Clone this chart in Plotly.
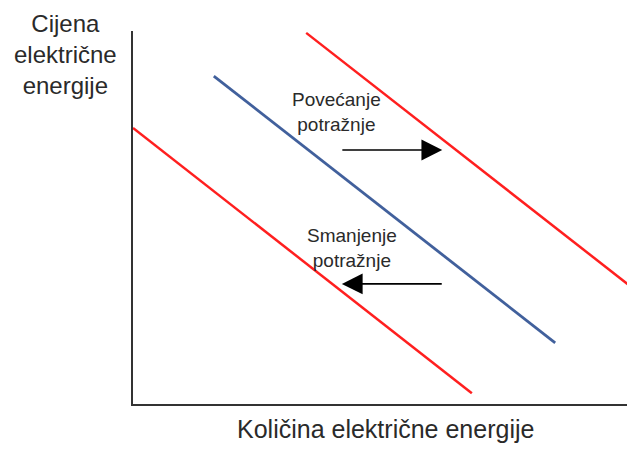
import plotly.graph_objects as go

# Conceptual supply/demand style lines (quantity on x, price on y), units 0-10
left_red_x = [0.0, 6.75]
left_red_y = [7.40, 0.29]
blue_x = [1.61, 8.41]
blue_y = [8.79, 1.64]
right_red_x = [3.45, 10.0]
right_red_y = [9.95, 3.06]

# Arrows: (tail_x, head_x, y)
arrow_up = (4.14, 6.16, 6.81)
arrow_down = (6.18, 4.16, 3.22)

label_up = "Povećanje<br>potražnje"
label_up_pos = (4.06, 7.84)
label_down = "Smanjenje<br>potražnje"
label_down_pos = (4.36, 4.18)

y_title = "Cijena<br>električne<br>energije"
x_title = "Količina električne energije"

RED = "#ff1f1f"
BLUE = "#41609c"
TXT = "#2a2a2a"
FONT = "Liberation Sans, Arial, sans-serif"

fig = go.Figure()
fig.add_trace(go.Scatter(x=left_red_x, y=left_red_y, mode="lines",
                         line=dict(color=RED, width=2.5), hoverinfo="skip"))
fig.add_trace(go.Scatter(x=blue_x, y=blue_y, mode="lines",
                         line=dict(color=BLUE, width=2.8), hoverinfo="skip"))
fig.add_trace(go.Scatter(x=right_red_x, y=right_red_y, mode="lines",
                         line=dict(color=RED, width=2.5), hoverinfo="skip"))

for tail_x, head_x, yy in (arrow_up, arrow_down):
    fig.add_annotation(x=head_x, y=yy, ax=tail_x, ay=yy, xref="x", yref="y",
                       axref="x", ayref="y", text="", showarrow=True,
                       arrowhead=2, arrowsize=2.6, arrowwidth=1.6,
                       arrowcolor="#000000", standoff=0)

fig.add_annotation(x=label_up_pos[0], y=label_up_pos[1], xref="x", yref="y",
                   text=label_up, showarrow=False,
                   xanchor="center", yanchor="middle",
                   font=dict(family=FONT, size=19, color=TXT))
fig.add_annotation(x=label_down_pos[0], y=label_down_pos[1], xref="x", yref="y",
                   text=label_down, showarrow=False,
                   xanchor="center", yanchor="middle",
                   font=dict(family=FONT, size=19, color=TXT))

fig.add_annotation(x=-0.1345, y=0.936, xref="paper", yref="paper",
                   text=y_title, showarrow=False,
                   xanchor="center", yanchor="middle",
                   font=dict(family=FONT, size=24, color=TXT))
fig.add_annotation(x=0.502, y=-0.067, xref="paper", yref="paper",
                   text=x_title, showarrow=False,
                   xanchor="center", yanchor="middle",
                   font=dict(family=FONT, size=25, color=TXT))

axis_common = dict(showgrid=False, zeroline=False, showticklabels=False,
                   ticks="", showline=True, linecolor="#333333", linewidth=2,
                   fixedrange=True)
fig.update_xaxes(range=[0, 10], **axis_common)
fig.update_yaxes(range=[0, 10], **axis_common)

# page body has an 8px margin, so shrink the figure accordingly
fig.update_layout(width=627, height=444, showlegend=False,
                  margin=dict(l=125, r=0, t=23, b=48),
                  plot_bgcolor="white", paper_bgcolor="white")

fig.write_html("out.html")
